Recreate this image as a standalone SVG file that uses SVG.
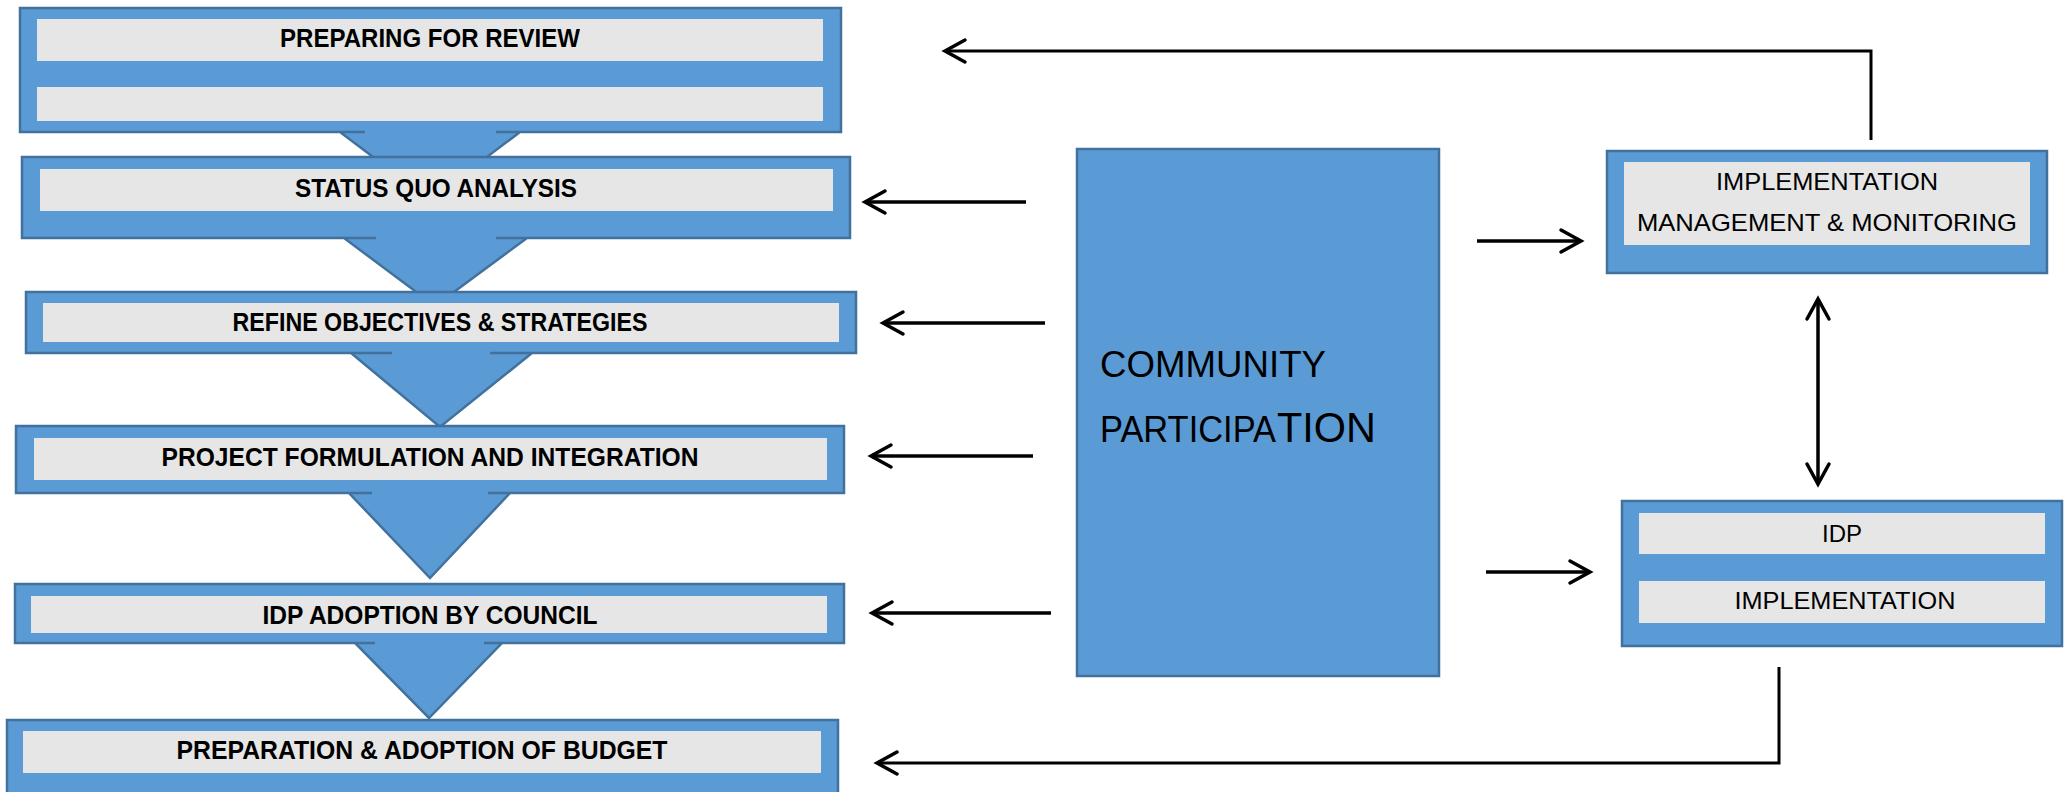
<svg xmlns="http://www.w3.org/2000/svg" width="2069" height="792" viewBox="0 0 2069 792">
<style>
.box{fill:#5B9BD5;stroke:#41719C;stroke-width:2.5;stroke-linejoin:miter}
.bar{fill:#E6E6E6;stroke:none}
.bl{font-family:"Liberation Sans",Arial,sans-serif;font-weight:bold;font-size:25px;fill:#000;text-anchor:middle}
.rl{font-family:"Liberation Sans",Arial,sans-serif;font-size:24px;fill:#000;text-anchor:middle}
.cp{font-family:"Liberation Sans",Arial,sans-serif;fill:#000}
.ln{fill:none;stroke:#000;stroke-width:3.5}
.lt{fill:none;stroke:#000;stroke-width:3}
</style>
<defs>
<marker id="ah" markerUnits="userSpaceOnUse" markerWidth="30" markerHeight="30" viewBox="-25 -15 30 30" refX="0" refY="0" orient="auto-start-reverse">
<path d="M-20,-11 L0,0 L-20,11" fill="none" stroke="#000" stroke-width="3.5" stroke-linecap="round" stroke-linejoin="miter"/>
</marker>
</defs>
<rect width="2069" height="792" fill="#fff"/>

<g id="node-preparing-review">
<path class="box" d="M20,8 H841 V132 H496 H520 L430,200 L340,132 H365 H20 Z"/>
<rect class="bar" x="37" y="19" width="786" height="42"/>
<rect class="bar" x="37" y="87" width="786" height="34"/>
<text class="bl" x="430" y="47" textLength="300" lengthAdjust="spacingAndGlyphs">PREPARING FOR REVIEW</text>
</g>

<g id="node-status-quo">
<path class="box" d="M22,157 H850 V238 H496 H527 L435,306 L344,238 H376 H22 Z"/>
<rect class="bar" x="40" y="169" width="793" height="42"/>
<text class="bl" x="436" y="197" textLength="282" lengthAdjust="spacingAndGlyphs">STATUS QUO ANALYSIS</text>
</g>

<g id="node-refine">
<path class="box" d="M26,292 H856 V353 H490 H532 L440,427 L351,353 H392 H26 Z"/>
<rect class="bar" x="43" y="303" width="796" height="39"/>
<text class="bl" x="440" y="331" textLength="415" lengthAdjust="spacingAndGlyphs">REFINE OBJECTIVES &amp; STRATEGIES</text>
</g>

<g id="node-project">
<path class="box" d="M16,426 H844 V493 H488 H510 L430,578 L349,493 H372 H16 Z"/>
<rect class="bar" x="34" y="438" width="793" height="42"/>
<text class="bl" x="430" y="466" textLength="537" lengthAdjust="spacingAndGlyphs">PROJECT FORMULATION AND INTEGRATION</text>
</g>

<g id="node-idp-adoption">
<path class="box" d="M15,584 H844 V643 H484 H502 L429,718 L355,643 H375 H15 Z"/>
<rect class="bar" x="31" y="596" width="796" height="37"/>
<text class="bl" x="430" y="624" textLength="335" lengthAdjust="spacingAndGlyphs">IDP ADOPTION BY COUNCIL</text>
</g>

<g id="node-budget">
<rect class="box" x="7" y="720" width="831" height="82"/>
<rect class="bar" x="23" y="731" width="798" height="42"/>
<text class="bl" x="422" y="759" textLength="491" lengthAdjust="spacingAndGlyphs">PREPARATION &amp; ADOPTION OF BUDGET</text>
</g>

<g id="node-community">
<rect class="box" x="1077" y="149" width="362" height="527"/>
<text class="cp" x="1100" y="377" font-size="37" textLength="226" lengthAdjust="spacingAndGlyphs">COMMUNITY</text>
<text class="cp" x="1100" y="442"><tspan font-size="37" textLength="176" lengthAdjust="spacingAndGlyphs">PARTICIPA</tspan><tspan x="1277" font-size="43" textLength="99" lengthAdjust="spacingAndGlyphs">TION</tspan></text>
</g>

<g id="node-impl-mgmt">
<rect class="box" x="1607" y="151" width="440" height="122"/>
<rect class="bar" x="1624" y="162" width="406" height="83"/>
<text class="rl" x="1827" y="190" textLength="222" lengthAdjust="spacingAndGlyphs">IMPLEMENTATION</text>
<text class="rl" x="1827" y="231" textLength="380" lengthAdjust="spacingAndGlyphs">MANAGEMENT &amp; MONITORING</text>
</g>

<g id="node-idp-impl">
<rect class="box" x="1622" y="501" width="440" height="145"/>
<rect class="bar" x="1639" y="513" width="406" height="41"/>
<rect class="bar" x="1639" y="581" width="406" height="42"/>
<text class="rl" x="1842" y="542" textLength="40" lengthAdjust="spacingAndGlyphs">IDP</text>
<text class="rl" x="1845" y="609" textLength="221" lengthAdjust="spacingAndGlyphs">IMPLEMENTATION</text>
</g>

<g id="connectors">
<polyline class="lt" points="1871,140 1871,51 945,51" marker-end="url(#ah)"/>
<line class="ln" x1="1026" y1="202" x2="865" y2="202" marker-end="url(#ah)"/>
<line class="ln" x1="1045" y1="323" x2="883" y2="323" marker-end="url(#ah)"/>
<line class="ln" x1="1033" y1="456" x2="871" y2="456" marker-end="url(#ah)"/>
<line class="ln" x1="1051" y1="613" x2="872" y2="613" marker-end="url(#ah)"/>
<line class="ln" x1="1477" y1="241" x2="1581" y2="241" marker-end="url(#ah)"/>
<line class="ln" x1="1486" y1="572" x2="1590" y2="572" marker-end="url(#ah)"/>
<line class="ln" x1="1818" y1="299" x2="1818" y2="484" marker-start="url(#ah)" marker-end="url(#ah)"/>
<polyline class="lt" points="1779,667 1779,763 877,763" marker-end="url(#ah)"/>
</g>
</svg>
